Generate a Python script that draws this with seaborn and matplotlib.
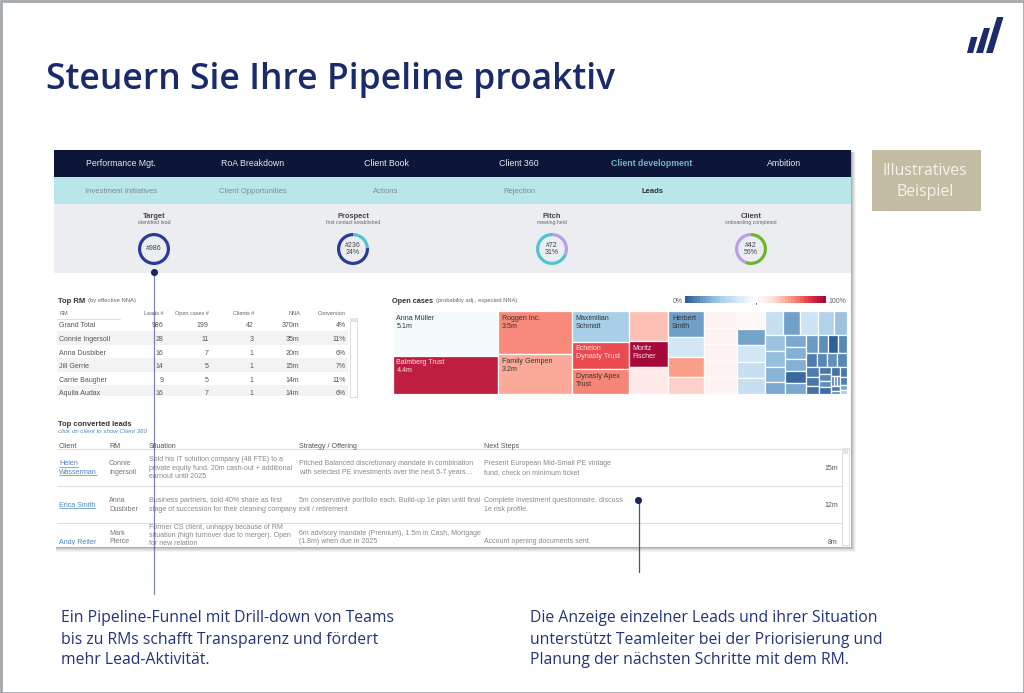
import numpy as np
import matplotlib
matplotlib.use('Agg')
import matplotlib.pyplot as plt
from matplotlib.patches import Rectangle, Polygon
import seaborn as sns

W, H = 1024, 693

# navigation
nav_items = ['Performance Mgt.', 'RoA Breakdown', 'Client Book', 'Client 360', 'Client development', 'Ambition']
sub_items = ['Investment Initiatives', 'Client Opportunities', 'Actions', 'Rejection', 'Leads']

# funnel
stage_names = ['Target', 'Prospect', 'Pitch', 'Client']
stage_subs = ['identified lead', 'first contact established', 'meeting held', 'onboarding completed']
stage_counts = ['#986', '#236', '#72', '#42']
stage_share = [100, 24, 31, 56]
stage_colors = [('#2a3a96', '#2a3a96'), ('#4fc4d0', '#2a3a96'), ('#b89ee8', '#4fc4d0'), ('#6cb52d', '#b89ee8')]

# top RM table
rm_header = ['Leads #', 'Open cases #', 'Clients #', 'NNA', 'Conversion']
rm_names = ['Grand Total', 'Connie Ingersoll', 'Anna Dusbiber', 'Jill Gerrie', 'Carrie Baugher', 'Aquila Audax']
rm_leads = [986, 28, 16, 14, 9, 16]
rm_open = [199, 11, 7, 5, 5, 7]
rm_clients = [42, 3, 1, 1, 1, 1]
rm_nna = ['370m', '35m', '20m', '15m', '14m', '14m']
rm_conv = ['4%', '11%', '6%', '7%', '11%', '6%']

# treemap, nested: columns > tiles, alternating split direction
map_values = [
    [5.1, 4.4], [3.5, 3.2], [1.9, 1.7, 1.55], [1.28, 1.11, 1.15], [1.0, 0.77, 0.77, 0.65],
    [0.6, 0.6, 0.6, 0.6, 0.6], [0.55, 0.49, 0.52, 0.49, 0.49],
    [[0.47, 0.45, 0.47, 0.42, 0.34],
     [[0.35, 0.35, 0.31, 0.27], [0.28, 0.27, 0.28, 0.26, 0.26],
      [[0.25, 0.2, 0.19, 0.18], [0.16, 0.16, 0.15, 0.15],
       [[0.145, 0.127, 0.112], [0.094, 0.09, 0.08, 0.09],
        [0.08, [0.035, 0.035, 0.03], 0.045, 0.03], [0.07, 0.06, 0.04, 0.03]]]]],
]
map_probs = [
    [0.47, 0.95], [0.77, 0.72], [0.25, 0.86, 0.78], [0.68, 1.0, 0.58], [0.125, 0.36, 0.74, 0.65],
    [0.55, 0.55, 0.55, 0.55, 0.55], [0.53, 0.14, 0.36, 0.33, 0.33],
    [[0.33, 0.13, 0.35, 0.27, 0.22],
     [[0.22, 0.21, 0.18, 0.15], [0.15, 0.17, 0.17, 0.02, 0.15],
      [[0.12, 0.09, 0.0, 0.08], [0.06, 0.08, 0.10, 0.08],
       [[0.06, 0.05, 0.04], [0.05, 0.08, 0.09, 0.03],
        [0.04, [0.06, 0.1, 0.08], 0.06, 0.1], [0.05, 0.07, 0.15, 0.25]]]]],
]
map_labels = ['Anna Müller\n5.1m', 'Balmberg Trust\n4.4m', 'Roggen Inc.\n3.5m', 'Family Gempen\n3.2m',
              'Maximilian\nSchmidt', 'Echelon\nDynasty Trust', 'Dynasty Apex\nTrust', '', 'Moritz\nFischer', '',
              'Herbert\nSmith']
map_white = ['Balmberg Trust\n4.4m', 'Echelon\nDynasty Trust', 'Moritz\nFischer']

# leads table
lead_clients = [['Helen', 'Wasserman'], ['Erica Smith'], ['Andy Reiter']]
lead_rms = [['Connie', 'Ingersoll'], ['Anna', 'Dusbiber'], ['Mark', 'Pierce']]
lead_situation = [['Sold his IT solution company (48 FTE) to a', 'private equity fund. 20m cash-out + additional', 'earnout until 2025'],
                  ['Business partners, sold 40% share as first', 'stage of succession for their cleaning company'],
                  ['Former CS client, unhappy because of RM', 'situation (high turnover due to merger). Open', 'for new relation']]
lead_strategy = [['Pitched Balanced discretionary mandate in combination', 'with selected PE investments over the next 5-7 years…'],
                 ['5m conservative portfolio each. Build-up 1e plan until final', 'exit / retirement'],
                 ['6m advisory mandate (Premium), 1.5m in Cash, Mortgage', '(1.8m) when due in 2025']]
lead_next = [['Present European Mid-Small PE vintage', 'fund, check on minimum ticket'],
             ['Complete investment questionnaire, discuss', '1e risk profile.'],
             ['', 'Account opening documents sent.']]
lead_nna = ['15m', '12m', '8m']

callout_left = ['Ein Pipeline-Funnel mit Drill-down von Teams', 'bis zu RMs schafft Transparenz und fördert', 'mehr Lead-Aktivität.']
callout_right = ['Die Anzeige einzelner Leads und ihrer Situation', 'unterstützt Teamleiter bei der Priorisierung und', 'Planung der nächsten Schritte mit dem RM.']

NAVY = '#1b2a6b'
sns.set_theme(style='white')
plt.rcParams['font.family'] = ['Liberation Sans', 'DejaVu Sans']
heat_cmap = sns.blend_palette(['#2f5f96', '#6f9fc8', '#a9cfe8', '#d6eaf8', '#ffffff', '#fde0dd', '#fb9a86', '#e8424a', '#a50a3a'], as_cmap=True)

fig = plt.figure(figsize=(W / 100, H / 100), dpi=100, facecolor='white')
ax = fig.add_axes([0, 0, 1, 1])
ax.set_xlim(0, W)
ax.set_ylim(H, 0)
ax.axis('off')


def px_axes(x, y, w, h):
    return fig.add_axes([x / W, 1 - (y + h) / H, w / W, h / H])


def label(x, y, s, px=7, color='#555555', ha='left', weight='normal', **kw):
    # y is the middle of the x-height row, so mixed strings share one baseline
    return ax.text(x, y + 0.36 * px, s, fontsize=px * 0.72, color=color, ha=ha, va='baseline', fontweight=weight, **kw)


def box(x0, y0, x1, y1, color, z=1, **kw):
    ax.add_patch(Rectangle((x0, y0), x1 - x0, y1 - y0, facecolor=color, edgecolor='none', zorder=z, **kw))


def total(node):
    return sum(total(n) for n in node) if isinstance(node, list) else node


def layout(vals, probs, x0, y0, x1, y1, horizontal, out):
    # slice and dice: each level splits its box by the share of the values
    if not isinstance(vals, list):
        out.append((x0, y0, x1, y1, probs))
        return
    tot = total(vals)
    pos = x0 if horizontal else y0
    for v, p in zip(vals, probs):
        share = total(v) / tot
        if horizontal:
            nxt = pos + (x1 - x0) * share
            layout(v, p, pos, y0, nxt, y1, False, out)
        else:
            nxt = pos + (y1 - y0) * share
            layout(v, p, x0, pos, x1, nxt, True, out)
        pos = nxt


# frame, title, logo
ax.add_patch(Rectangle((0.5, 0.5), W - 1, H - 1, fill=False, edgecolor='#a3a8ab', lw=2, zorder=20))
ax.text(46, 80, 'Steuern Sie Ihre Pipeline proaktiv', fontsize=25.6, color=NAVY, va='center', fontweight='semibold', family='Open Sans')
for pts in [[(967, 53), (973, 53), (977.5, 37), (971, 37)],
            [(976, 53), (983, 53), (990, 28), (984, 28)],
            [(986, 53), (992.7, 53), (1003.5, 17), (997, 17)]]:
    ax.add_patch(Polygon(pts, closed=True, facecolor=NAVY, edgecolor='none'))
box(872, 150, 981, 211, '#c3bca3')
ax.text(925, 171, 'Illustratives', fontsize=11.4, color='#f4f2ea', ha='center', va='center', family='Open Sans')
ax.text(925, 192, 'Beispiel', fontsize=11.4, color='#f4f2ea', ha='center', va='center', family='Open Sans')

# dashboard shell with shadow
for d, a in [(5, 0.06), (4, 0.08), (3, 0.1), (2, 0.14), (1, 0.2)]:
    box(56, 152, 851 + d, 547 + d, '#555555', z=0.5, alpha=a)
box(54, 150, 851, 547, 'white', z=1)
box(54, 150, 851, 177, '#0d1538', z=2)
box(54, 177, 851, 204, '#b9e6e9', z=2)
box(54, 204, 851, 273, '#ecedf1', z=2)

nav_x = [121, 253, 386, 519, 652, 784]
for x, s in zip(nav_x, nav_items):
    active = s == 'Client development'
    label(x, 163, s, px=8.8, color='#6fb9bd' if active else '#e8e9ef', ha='center', weight='bold' if active else 'normal', zorder=3)
for x, s in zip(nav_x, sub_items):
    active = s == 'Leads'
    label(x, 190, s, px=7.7, color='#333333' if active else '#7b8b91', ha='center', weight='bold' if active else 'normal', zorder=3)

# funnel donuts
stage_x = [154, 353, 552, 751]
for x, name, sub, cnt, share, cols in zip(stage_x, stage_names, stage_subs, stage_counts, stage_share, stage_colors):
    label(x, 215, name, px=7.5, color='#444444', ha='center', weight='bold', zorder=3)
    label(x, 222, sub, px=5.1, color='#666666', ha='center', zorder=3)
    dax = px_axes(x - 20, 229, 40, 40)
    dax.pie([share, 100 - share], colors=cols, startangle=90, counterclock=False, radius=1.0,
            wedgeprops={'width': 0.2, 'linewidth': 0})
    dax.set_aspect('equal')
    dax.patch.set_alpha(0)
    txt = cnt if share == 100 else f'{cnt}\n{share}%'
    dax.text(0, 0, txt, fontsize=7 * 0.72, color='#444444', ha='center', va='center', linespacing=1.15)

# top RM table
label(58, 300, 'Top RM', px=7.6, color='#333333', weight='bold')
label(88, 300, '(by effective NNA)', px=5.9, color='#666666')
label(59, 313, 'RM', px=5.5, color='#666666')
col_x = [164, 209, 254, 300, 346]
for x, s in zip(col_x, rm_header):
    label(x, 313, s, px=5.5, color='#666666', ha='right')
row_y = [324.5, 338, 352, 365, 379, 392]
for i, (y, name) in enumerate(zip(row_y, rm_names)):
    if i % 2 == 1:
        box(57, y - 7, 348, min(y + 7, 396), '#f3f3f4', z=1.5)
    label(59, y, name, px=7.0, color='#555555')
    vals = [rm_leads[i], rm_open[i], rm_clients[i], rm_nna[i], rm_conv[i]]
    for x, v in zip(col_x, vals):
        label(x - 0.5, y, str(v), px=7.0, color='#555555', ha='right')
ax.add_patch(Rectangle((349.5, 317.5), 7, 79, facecolor='white', edgecolor='#dcdcdc', lw=0.7, zorder=2))
box(350, 318, 356.5, 322, '#e4e4e4', z=2.5)
ax.plot([57, 120], [318.5, 318.5], color='#dddddd', lw=0.7, zorder=2)

# open cases treemap
label(392.5, 300, 'Open cases', px=7.4, color='#333333', weight='bold')
label(436.5, 300, '(probability adj., expected NNA)', px=5.8, color='#666666')
tiles = []
layout(map_values, map_probs, 393, 311, 847, 394, True, tiles)
for t, (x0, y0, x1, y1, p) in enumerate(tiles):
    ax.add_patch(Rectangle((x0, y0), x1 - x0, y1 - y0, facecolor=heat_cmap(p), edgecolor='#fdfdfd', lw=0.9, zorder=2))
    if t < len(map_labels) and map_labels[t]:
        col = '#f7e6e8' if map_labels[t] in map_white else '#333333'
        ax.text(x0 + 3.5, y0 + 3.5, map_labels[t], fontsize=7.1 * 0.72, color=col, va='top', ha='left', linespacing=1.25, zorder=3)

# colour scale
label(683, 300, '0%', px=7, color='#666666', ha='right')
label(828, 300, '100%', px=7, color='#666666')
cax = px_axes(685, 296, 141, 6.5)
sns.heatmap(np.linspace(0, 1, 48)[None, :], ax=cax, cmap=heat_cmap, cbar=False, xticklabels=False, yticklabels=False, vmin=0, vmax=1)
ax.plot([755.5, 755.5], [302, 303.5], color='#555555', lw=0.6)

# top converted leads
label(58, 423, 'Top converted leads', px=7.6, color='#333333', weight='bold')
label(58, 431, 'click on client to show Client 360', px=6.2, color='#4f86c6', style='italic')
for x, s in zip([59, 109, 149, 299, 484], ['Client', 'RM', 'Situation', 'Strategy / Offering', 'Next Steps']):
    label(x, 445, s, px=7.1, color='#555555')
for y in [448.5, 485.5, 522.5]:
    ax.plot([57, 841], [y, y], color='#dedede', lw=0.8, zorder=2)

block_mid = [467, 504, 534.5]
line_gap = 8.2
renderer = fig.canvas.get_renderer()
for i, mid in enumerate(block_mid):
    for col_x_, lines, color in [(59, lead_clients[i], '#4f86c6'), (109, lead_rms[i], '#777777'),
                                 (149, lead_situation[i], '#888888'), (299, lead_strategy[i], '#888888'),
                                 (484, lead_next[i], '#888888')]:
        start = mid - (len(lines) - 1) * line_gap / 2
        for k, s in enumerate(lines):
            yy = start + k * line_gap
            if i == 2 and col_x_ == 59:
                yy = 541
            if i == 2 and col_x_ in (109, 299, 484):
                yy = 532.5 + k * 8.4
            if not s:
                continue
            t = label(col_x_, yy, s, px=7.2 if col_x_ in (59, 109) else 7.05, color=color, zorder=2.2)
            if col_x_ == 59:
                bb = t.get_window_extent(renderer)
                ax.plot([bb.x0, bb.x1], [yy + 3.8, yy + 3.8], color=color, lw=0.5, zorder=2.2)
    label(838, 541 if i == 2 else mid, lead_nna[i], px=7, color='#555555', ha='right', zorder=2.2)
box(55, 545, 850, 547, 'white', z=2.5)
ax.add_patch(Rectangle((841.5, 448), 7, 97, facecolor='white', edgecolor='#dcdcdc', lw=0.7, zorder=2.6))
box(842, 448, 848, 454, '#e4e4e4', z=2.7)

# callouts
ax.plot([154, 154], [272, 594], color='#2a3578', lw=0.9, alpha=0.6, zorder=6)
ax.plot([639, 639], [500, 572], color='#2a3578', lw=0.9, alpha=0.85, zorder=6)
ax.scatter([154, 638], [272, 500], s=26, color='#1b2668', zorder=7, linewidths=0)
for x, lines in [(61, callout_left), (530, callout_right)]:
    for y, s in zip([618, 639.5, 660], lines):
        ax.text(x, y, s, fontsize=11.3, color='#24337e', va='center', family='Open Sans')

fig.savefig('out.png', dpi=100)
